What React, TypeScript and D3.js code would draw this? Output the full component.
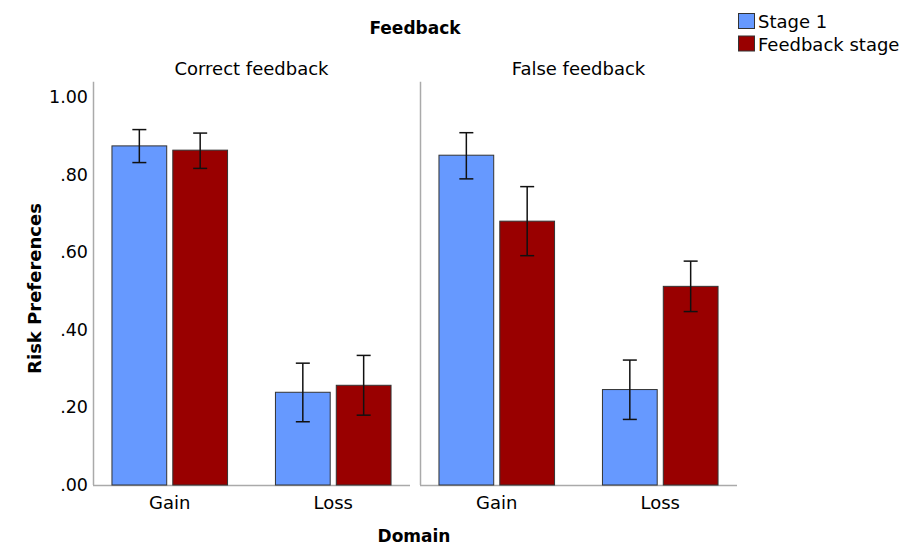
import React from "react";
import * as d3 from "d3";

const panels = ["Correct feedback", "False feedback"];
const domains = ["Gain", "Loss"];
const series = ["Stage 1", "Feedback stage"];
const colors = ["#6699FF", "#990000"];
// values[panel][domain][series]
const means = [
  [[0.874, 0.863], [0.239, 0.257]],
  [[0.850, 0.680], [0.246, 0.512]],
];
const errLow = [
  [[0.831, 0.816], [0.163, 0.180]],
  [[0.789, 0.591], [0.169, 0.447]],
];
const errHigh = [
  [[0.916, 0.907], [0.314, 0.334]],
  [[0.908, 0.769], [0.322, 0.577]],
];
const yTicks = [0, 0.2, 0.4, 0.6, 0.8, 1.0];

const W = 912, H = 545;
const FONT = "'DejaVu Sans', Verdana, sans-serif";

export default function App() {
  const y = d3.scaleLinear().domain([0, 1]).range([485, 97]);
  const yTop = y(1.039);
  const panelX = d3.scaleBand<string>().domain(panels).range([93, 737]).paddingInner(0.0306).paddingOuter(0);
  const fmt = (v: number) => (v >= 1 ? d3.format(".2f")(v) : d3.format(".2f")(v).replace(/^0/, ""));

  return (
    <svg width={W} height={H} style={{ position: "absolute", left: 0, top: 0, background: "#fff" }} fontFamily={FONT}>
      <text x={415} y={34} textAnchor="middle" fontWeight="bold" fontSize={17} fill="#000">Feedback</text>
      {/* Legend */}
      {series.map((s, i) => (
        <g key={s}>
          <rect x={738.5} y={13.5 + i * 22.5} width={16} height={15} fill={colors[i]} stroke="#333" strokeWidth={1} />
          <text x={758} y={28 + i * 22.5} fontSize={18} fill="#000">{s}</text>
        </g>
      ))}
      {/* Y axis labels */}
      {yTicks.map(t => (
        <text key={t} x={88} y={y(t) + 6} textAnchor="end" fontSize={17.5} fill="#000">{fmt(t)}</text>
      ))}
      <text transform={`translate(41,${(200 + 377) / 2}) rotate(-90)`} textAnchor="middle" fontWeight="bold" fontSize={18} fill="#000">Risk Preferences</text>
      <text x={414} y={542} textAnchor="middle" fontWeight="bold" fontSize={17} fill="#000">Domain</text>
      {panels.map((p, pi) => {
        const x0 = panelX(p)!;
        const pw = panelX.bandwidth();
        const xd = d3.scaleBand<string>().domain(domains).range([x0, x0 + pw]).paddingInner(0.293).paddingOuter(0.116);
        const xs = d3.scaleBand<string>().domain(series).range([0, xd.bandwidth()]).paddingInner(0.1);
        return (
          <g key={p}>
            <text x={x0 + pw / 2} y={75} textAnchor="middle" fontSize={18} fill="#000">{p}</text>
            <line x1={x0 + 0.5} x2={x0 + 0.5} y1={yTop} y2={485} stroke="#aaa" strokeWidth={1.5} />
            <line x1={x0} x2={x0 + pw} y1={485.5} y2={485.5} stroke="#aaa" strokeWidth={1.5} />
            {domains.map((d, di) => (
              <g key={d}>
                <text x={xd(d)! + xd.bandwidth() / 2} y={509} textAnchor="middle" fontSize={18} fill="#000">{d}</text>
                {series.map((s, si) => {
                  const bx = xd(d)! + xs(s)!;
                  const bw = xs.bandwidth();
                  const cx = bx + bw / 2;
                  const v = means[pi][di][si];
                  return (
                    <g key={s}>
                      <rect x={bx} y={y(v)} width={bw} height={485 - y(v)} fill={colors[si]} stroke="#333" strokeWidth={1} />
                      <line x1={cx} x2={cx} y1={y(errHigh[pi][di][si])} y2={y(errLow[pi][di][si])} stroke="#111" strokeWidth={1.5} />
                      <line x1={cx - 7} x2={cx + 7} y1={y(errHigh[pi][di][si])} y2={y(errHigh[pi][di][si])} stroke="#111" strokeWidth={1.5} />
                      <line x1={cx - 7} x2={cx + 7} y1={y(errLow[pi][di][si])} y2={y(errLow[pi][di][si])} stroke="#111" strokeWidth={1.5} />
                    </g>
                  );
                })}
              </g>
            ))}
          </g>
        );
      })}
    </svg>
  );
}
